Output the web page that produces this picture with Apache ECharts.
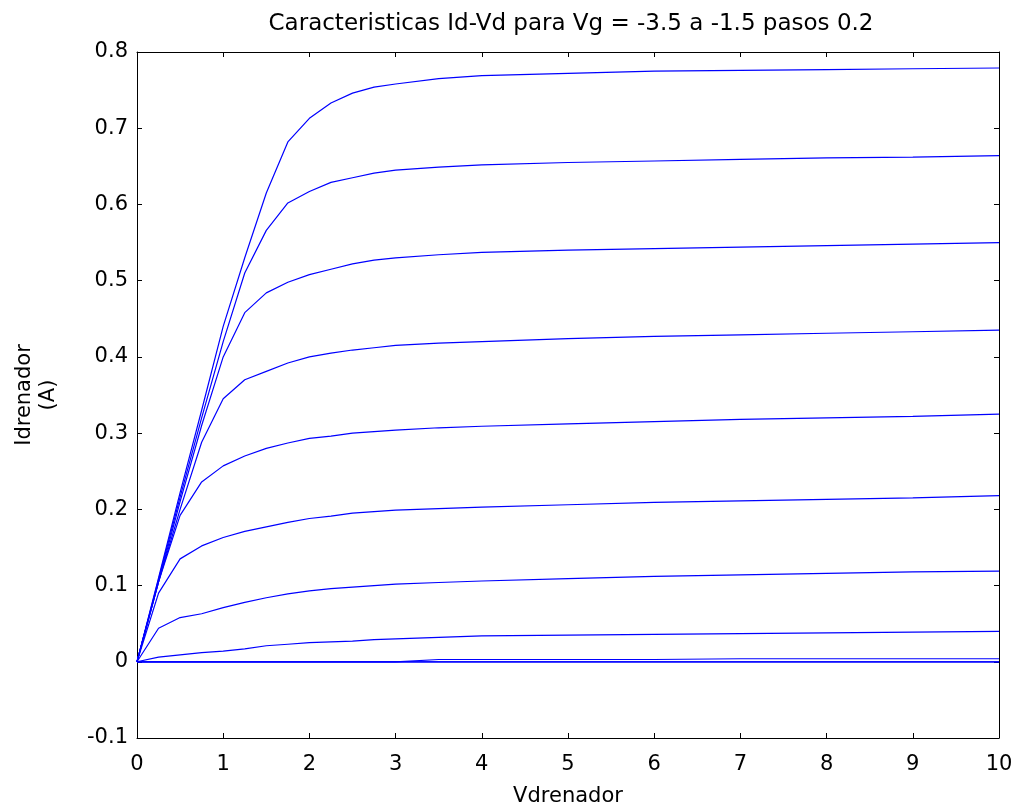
<!DOCTYPE html>
<html>
<head>
<meta charset="utf-8">
<script src="https://cdn.jsdelivr.net/npm/echarts@6/dist/echarts.min.js"></script>
<style>
  html, body { margin: 0; padding: 0; background: #fff; }
  #chart { width: 1015px; height: 808px; }
</style>
</head>
<body>
<div id="chart"></div>
<script>
// Vdrenador (V)
var vd = [0, 0.25, 0.5, 0.75, 1, 1.25, 1.5, 1.75, 2, 2.25, 2.5, 2.75, 3, 3.5, 4, 5, 6, 7, 8, 9, 10];

// Idrenador (A), one curve per Vg step
var id1 = [0, 0.11, 0.222, 0.33, 0.44, 0.53, 0.615, 0.682, 0.713, 0.733, 0.746, 0.754, 0.758, 0.765, 0.769, 0.772, 0.775, 0.776, 0.777, 0.778, 0.779];
var id2 = [0, 0.108, 0.216, 0.32, 0.42, 0.51, 0.566, 0.602, 0.617, 0.629, 0.635, 0.641, 0.645, 0.649, 0.652, 0.655, 0.657, 0.659, 0.661, 0.662, 0.664];
var id3 = [0, 0.105, 0.21, 0.31, 0.4, 0.458, 0.484, 0.498, 0.508, 0.515, 0.522, 0.527, 0.53, 0.534, 0.537, 0.54, 0.542, 0.544, 0.546, 0.548, 0.55];
var id4 = [0, 0.105, 0.2, 0.288, 0.345, 0.37, 0.381, 0.392, 0.4, 0.405, 0.409, 0.412, 0.415, 0.418, 0.42, 0.424, 0.427, 0.429, 0.431, 0.433, 0.435];
var id5 = [0, 0.105, 0.192, 0.236, 0.257, 0.27, 0.28, 0.287, 0.293, 0.296, 0.3, 0.302, 0.304, 0.307, 0.309, 0.312, 0.315, 0.318, 0.32, 0.322, 0.325];
var id6 = [0, 0.09, 0.135, 0.152, 0.163, 0.171, 0.177, 0.183, 0.188, 0.191, 0.195, 0.197, 0.199, 0.201, 0.203, 0.206, 0.209, 0.211, 0.213, 0.215, 0.218];
var id7 = [0, 0.044, 0.058, 0.063, 0.071, 0.078, 0.084, 0.089, 0.093, 0.096, 0.098, 0.1, 0.102, 0.104, 0.106, 0.109, 0.112, 0.114, 0.116, 0.118, 0.119];
var id8 = [0, 0.006, 0.009, 0.012, 0.014, 0.017, 0.021, 0.023, 0.025, 0.026, 0.027, 0.029, 0.03, 0.032, 0.034, 0.035, 0.036, 0.037, 0.038, 0.039, 0.04];
var id9 = [0, 0, 0, 0, 0, 0, 0, 0, 0, 0, 0, 0, 0, 0.003, 0.003, 0.003, 0.003, 0.004, 0.004, 0.004, 0.004];
var id10 = [0, 0, 0, 0, 0, 0, 0, 0, 0, 0, 0, 0, 0, 0, 0, 0, 0, 0, 0, 0, 0];
var id11 = [0, 0, 0, 0, 0, 0, 0, 0, 0, 0, 0, 0, 0, 0, 0, 0, 0, 0, 0, 0, 0];

var curves = [id1, id2, id3, id4, id5, id6, id7, id8, id9, id10, id11];

var FONT = 'DejaVu Sans';

function pairs(ys){
    var d = [];
    for(var i = 0; i < vd.length; i++){
        d.push([vd[i], ys[i]]);
    }
    return d;
}

function fmt(v){
    return String(Math.round(v * 10) / 10);
}

var chart = echarts.init(document.getElementById('chart'), null, { renderer: 'canvas' });

var axisLine = { show: true, onZero: false, lineStyle: { color: '#000', width: 1 } };
var axisTick = { show: true, inside: true, length: 5, lineStyle: { color: '#000', width: 1 } };

chart.setOption({
    animation: false,
    backgroundColor: '#fff',
    title: {
        text: 'Caracteristicas Id-Vd para Vg = -3.5 a -1.5 pasos 0.2',
        left: 566,
        textAlign: 'center',
        top: 8,
        textStyle: { fontFamily: FONT, fontSize: 23, fontWeight: 'normal', color: '#000' }
    },
    grid: { left: 137, top: 52, width: 862, height: 686, containLabel: false, outerBoundsMode: 'none' },
    xAxis: [{
        type: 'value', min: 0, max: 10, interval: 1, position: 'bottom',
        axisLine: axisLine, axisTick: axisTick, splitLine: { show: false },
        axisLabel: { color: '#000', fontFamily: FONT, fontSize: 21, margin: 16 },
        name: 'Vdrenador', nameLocation: 'middle', nameGap: 48,
        nameTextStyle: { color: '#000', fontFamily: FONT, fontSize: 21 }
    }, {
        type: 'value', min: 0, max: 10, interval: 1, position: 'top',
        axisLine: axisLine, axisTick: axisTick, splitLine: { show: false },
        axisLabel: { show: false }
    }],
    yAxis: [{
        type: 'value', min: -0.1, max: 0.8, interval: 0.1, position: 'left',
        axisLine: axisLine, axisTick: axisTick, splitLine: { show: false },
        axisLabel: { color: '#000', fontFamily: FONT, fontSize: 21, margin: 9, formatter: fmt },
        name: 'Idrenador\n(A)', nameLocation: 'middle', nameGap: 76, nameRotate: 90,
        nameTextStyle: { color: '#000', fontFamily: FONT, fontSize: 21, lineHeight: 24 }
    }, {
        type: 'value', min: -0.1, max: 0.8, interval: 0.1, position: 'right',
        axisLine: axisLine, axisTick: axisTick, splitLine: { show: false },
        axisLabel: { show: false }
    }],
    series: curves.map(function(ys){
        return {
            type: 'line',
            data: pairs(ys),
            showSymbol: false,
            silent: true,
            lineStyle: { color: '#0000ff', width: 1.2 }
        };
    })
});
</script>
</body>
</html>
